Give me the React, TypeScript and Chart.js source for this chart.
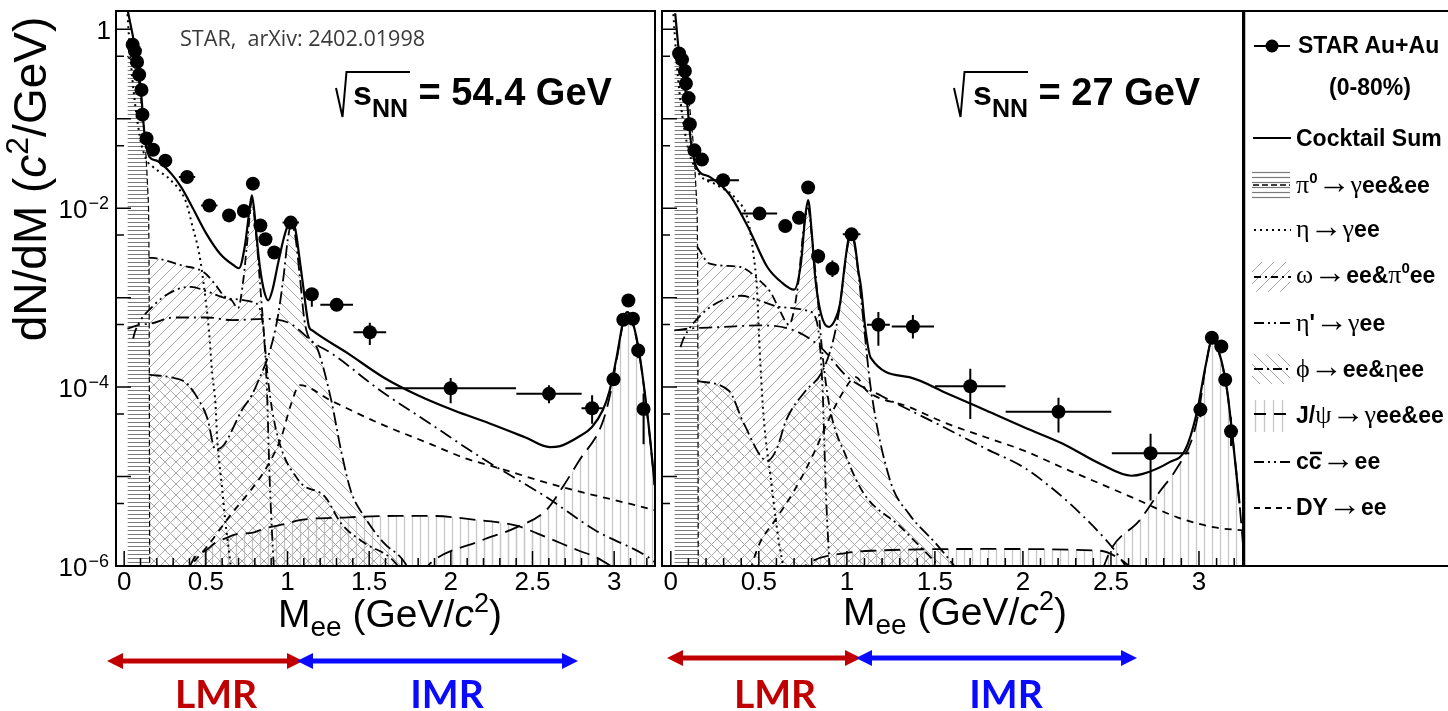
import React, { useEffect, useRef } from "react";
import { Chart, registerables } from "chart.js";

Chart.register(...registerables);

// ---------- axes ----------
const X_MIN = -0.05;
const X_MAX = 3.25;
const Y_MIN = 1e-6;
const Y_MAX = 1.6;
const X_TICK_VALUES = [0, 0.5, 1, 1.5, 2, 2.5, 3];
const X_TICK_LABELS = ["0", "0.5", "1", "1.5", "2", "2.5", "3"];
const Y_LABEL_EXPONENTS = [0, -2, -4, -6];

// ---------- STAR Au+Au 54.4 GeV (0-80%) ----------
const PTS54_M = [0.052, 0.066, 0.079, 0.092, 0.106, 0.112, 0.137, 0.177, 0.252, 0.385, 0.521, 0.642, 0.733, 0.788, 0.834, 0.865, 0.919, 1.02, 1.149, 1.301, 1.504, 1.999, 2.601, 2.865, 2.996, 3.056, 3.087, 3.115, 3.147, 3.18];
const PTS54_Y = [0.67, 0.57, 0.43, 0.31, 0.21, 0.111, 0.06, 0.045, 0.034, 0.0223, 0.0107, 0.0083, 0.0093, 0.0188, 0.0064, 0.0045, 0.0032, 0.0069, 1.09e-3, 8.3e-4, 4.1e-4, 9.7e-5, 8.4e-5, 5.8e-5, 1.22e-4, 5.66e-4, 9.3e-4, 5.8e-4, 2.57e-4, 5.7e-5];
const PTS54_DM = [0.004, 0.004, 0.004, 0.004, 0.004, 0.004, 0.01, 0.02, 0.03, 0.05, 0.05, 0.02, 0.02, 0.01, 0.015, 0.015, 0.02, 0.05, 0.03, 0.1, 0.1, 0.4, 0.2, 0.065, 0.02, 0.01, 0.01, 0.01, 0.01, 0.01];
const PTS54_LO = [0.67, 0.57, 0.43, 0.31, 0.21, 0.111, 0.06, 0.045, 0.034, 0.0223, 0.0107, 0.0083, 0.0093, 0.0188, 0.0064, 0.0045, 0.0028, 0.0069, 7.9e-4, 7.2e-4, 2.95e-4, 6.6e-5, 6.6e-5, 3.9e-5, 1.22e-4, 5.66e-4, 9.3e-4, 5.8e-4, 2.1e-4, 2.3e-5];
const PTS54_HI = [0.67, 0.57, 0.43, 0.31, 0.21, 0.111, 0.06, 0.045, 0.034, 0.0223, 0.0107, 0.0083, 0.0093, 0.0188, 0.0064, 0.0045, 0.0036, 0.0069, 1.26e-3, 9.6e-4, 5.25e-4, 1.26e-4, 1.05e-4, 8.1e-5, 1.22e-4, 5.66e-4, 9.3e-4, 5.8e-4, 3.1e-4, 8.5e-5];

// cocktail components, 54.4 GeV
const SUM54_M = [0.023, 0.069, 0.102, 0.124, 0.157, 0.199, 0.287, 0.35, 0.418, 0.503, 0.587, 0.67, 0.703, 0.739, 0.768, 0.782, 0.796, 0.811, 0.831, 0.856, 0.882, 0.907, 0.942, 0.977, 1.002, 1.023, 1.048, 1.073, 1.097, 1.118, 1.132, 1.152, 1.37, 1.586, 1.801, 2.02, 2.238, 2.454, 2.606, 2.669, 2.778, 2.863, 2.93, 2.972, 3.015, 3.061, 3.081, 3.103, 3.148, 3.191, 3.223, 3.248];
const SUM54_Y = [1.58, 0.58, 0.21, 0.069, 0.037, 0.034, 0.0245, 0.0171, 0.0102, 0.0052, 0.0031, 0.0023, 0.00213, 0.0038, 0.0098, 0.0139, 0.0095, 0.0048, 0.0022, 0.0012, 0.00093, 0.0012, 0.0024, 0.0046, 0.0064, 0.007, 0.0058, 0.0028, 0.0013, 6.6e-4, 4.7e-4, 4.3e-4, 2.38e-4, 1.29e-4, 8.05e-5, 5.47e-5, 3.92e-5, 2.75e-5, 2.13e-5, 2.19e-5, 2.75e-5, 3.56e-5, 5.5e-5, 9.1e-5, 2.16e-4, 6.05e-4, 6.9e-4, 6.05e-4, 2.8e-4, 7.7e-5, 2.35e-5, 8e-6];
const PI0_M = [0.02, 0.06, 0.09, 0.11, 0.13, 0.145, 0.152, 0.157];
const PI0_54_Y = [0.5, 0.4, 0.25, 0.12, 0.05, 0.015, 0.003, 1e-7];
const ETA54_M = [0.015, 0.045, 0.096, 0.136, 0.176, 0.287, 0.378, 0.418, 0.458, 0.478, 0.519, 0.539, 0.559, 0.569, 0.599, 0.619, 0.65, 0.67];
const ETA54_Y = [2.0, 0.35, 0.063, 0.035, 0.029, 0.0204, 0.0118, 0.0063, 0.0032, 0.00186, 4.3e-4, 1.41e-4, 6.5e-5, 2.75e-5, 7.6e-6, 3.2e-6, 1.1e-6, 5e-7];
const OMEGA54_M = [0.15, 0.212, 0.354, 0.486, 0.557, 0.609, 0.659, 0.697, 0.73, 0.755, 0.782, 0.806, 0.831, 0.856, 0.881, 0.932, 1.067, 1.231, 1.328, 1.474, 1.631, 1.72];
const OMEGA54_Y = [2.8e-3, 2.72e-3, 2.29e-3, 1.93e-3, 1.41e-3, 1.05e-3, 9.3e-4, 7.6e-4, 1.6e-3, 4.5e-3, 1.2e-2, 5.5e-3, 1.5e-3, 4.0e-4, 1.2e-4, 3.2e-5, 9.1e-6, 5.9e-6, 3.0e-6, 1.8e-6, 1.23e-6, 8e-7];
const ETAP54_M = [0.055, 0.069, 0.178, 0.307, 0.408, 0.509, 0.609, 0.71, 0.79, 0.839, 0.872, 0.891, 0.916, 0.93];
const ETAP54_Y = [3.5e-4, 4.3e-4, 8.1e-4, 1.2e-3, 1.32e-3, 1.17e-3, 1.0e-3, 9.5e-4, 8.9e-4, 6.6e-4, 1.17e-4, 9.1e-6, 1e-6, 4e-7];
const PHI54_M = [0.15, 0.307, 0.378, 0.458, 0.509, 0.559, 0.609, 0.72, 0.781, 0.821, 0.891, 0.942, 0.977, 1.002, 1.023, 1.048, 1.073, 1.107, 1.187, 1.268, 1.328, 1.388, 1.473, 1.594, 1.691, 1.77];
const PHI54_Y = [1.38e-4, 1.26e-4, 1.12e-4, 7.1e-5, 4.5e-5, 2.0e-5, 2.24e-5, 5.5e-5, 8.1e-5, 1.17e-4, 2.5e-4, 6.3e-4, 1.8e-3, 4.5e-3, 6.6e-3, 4.8e-3, 1.9e-3, 5.1e-4, 2.57e-4, 7.1e-5, 1.95e-5, 6.9e-6, 3.5e-6, 1.78e-6, 1.26e-6, 8e-7];
const JPSITAIL54_M = [0.39, 0.437, 0.498, 0.559, 0.62, 0.7, 0.781, 0.861, 1.002, 1.067, 1.37, 1.674, 1.874, 2.178, 2.402, 2.584, 2.785, 2.886, 3.02];
const JPSITAIL54_Y = [9e-7, 1.29e-6, 1.48e-6, 1.82e-6, 2.04e-6, 2.29e-6, 2.34e-6, 2.63e-6, 3.0e-6, 3.24e-6, 3.5e-6, 3.63e-6, 3.63e-6, 3.24e-6, 2.82e-6, 2.1e-6, 1.48e-6, 1.26e-6, 9e-7];
const JPSI54_M = [1.82, 1.874, 2.178, 2.402, 2.584, 2.684, 2.785, 2.926, 2.977, 3.017, 3.061, 3.081, 3.103, 3.148, 3.191, 3.223, 3.248];
const JPSI54_Y = [8e-7, 1.07e-6, 1.9e-6, 2.7e-6, 4.2e-6, 7.6e-6, 1.5e-5, 3.9e-5, 8.5e-5, 2.1e-4, 5.9e-4, 6.8e-4, 5.9e-4, 2.7e-4, 7.5e-5, 2.3e-5, 8e-6];
const CC54_M = [0.02, 0.1, 0.156, 0.307, 0.509, 0.66, 0.86, 1.012, 1.061, 1.163, 1.267, 1.57, 1.874, 2.178, 2.584, 2.886, 3.208, 3.25];
const CC54_Y = [4.5e-4, 5.0e-4, 5.1e-4, 6.0e-4, 6.0e-4, 5.6e-4, 5.8e-4, 5.2e-4, 4.5e-4, 3.1e-4, 2.4e-4, 9.1e-5, 3.9e-5, 1.66e-5, 5.9e-6, 2.5e-6, 1.26e-6, 1.1e-6];
const DY54_M = [0.428, 0.509, 0.66, 0.76, 0.861, 0.962, 1.02, 1.075, 1.264, 1.566, 1.868, 2.08, 2.281, 2.684, 3.087, 3.25];
const DY54_Y = [1.12e-6, 1.66e-6, 3.9e-6, 6.5e-6, 1.17e-5, 2.75e-5, 6.3e-5, 1.05e-4, 7.1e-5, 3.9e-5, 2.34e-5, 1.62e-5, 1.26e-5, 7.6e-6, 5.0e-6, 4.2e-6];

// ---------- STAR Au+Au 27 GeV (0-80%) ----------
const PTS27_M = [0.047, 0.064, 0.08, 0.086, 0.101, 0.108, 0.134, 0.177, 0.297, 0.504, 0.65, 0.728, 0.78, 0.837, 0.918, 1.027, 1.179, 1.375, 1.701, 2.202, 2.725, 3.008, 3.073, 3.127, 3.149, 3.182];
const PTS27_Y = [0.535, 0.458, 0.342, 0.247, 0.17, 0.0866, 0.0443, 0.0349, 0.0205, 0.0087, 0.0063, 0.0078, 0.017, 0.0029, 0.0021, 0.0051, 4.98e-4, 4.76e-4, 1.02e-4, 5.3e-5, 1.82e-5, 5.6e-5, 3.56e-4, 2.85e-4, 1.21e-4, 3.2e-5];
const PTS27_DM = [0.004, 0.004, 0.004, 0.004, 0.004, 0.004, 0.01, 0.02, 0.09, 0.1, 0.02, 0.02, 0.01, 0.02, 0.02, 0.05, 0.065, 0.12, 0.2, 0.3, 0.22, 0.01, 0.01, 0.01, 0.01, 0.01];
const PTS27_LO = [0.535, 0.458, 0.342, 0.247, 0.17, 0.0866, 0.0443, 0.0349, 0.0205, 0.0087, 0.0063, 0.0078, 0.017, 0.0024, 0.0017, 0.0051, 2.9e-4, 3.5e-4, 4.4e-5, 3.1e-5, 5.4e-6, 4.6e-5, 3.56e-4, 2.85e-4, 1.21e-4, 2.2e-5];
const PTS27_HI = [0.535, 0.458, 0.342, 0.247, 0.17, 0.0866, 0.0443, 0.0349, 0.0205, 0.0087, 0.0063, 0.0078, 0.017, 0.0035, 0.0026, 0.0051, 6.9e-4, 6.4e-4, 1.6e-4, 7.6e-5, 3.0e-5, 6.8e-5, 3.56e-4, 2.85e-4, 1.21e-4, 4.6e-5];

// cocktail components, 27 GeV
const SUM27_M = [0.025, 0.047, 0.091, 0.113, 0.145, 0.221, 0.33, 0.438, 0.548, 0.635, 0.7, 0.74, 0.762, 0.78, 0.8, 0.82, 0.853, 0.896, 0.93, 0.961, 0.99, 1.01, 1.027, 1.045, 1.065, 1.08, 1.105, 1.135, 1.354, 1.57, 1.788, 2.006, 2.224, 2.441, 2.616, 2.681, 2.833, 2.92, 2.986, 3.04, 3.073, 3.117, 3.16, 3.193, 3.23];
const SUM27_Y = [1.51, 0.537, 0.162, 0.0575, 0.0288, 0.0224, 0.0145, 0.0062, 0.0022, 0.00145, 0.00123, 0.0025, 0.0075, 0.0123, 0.0055, 0.0017, 6.6e-4, 4.7e-4, 5.5e-4, 8.5e-4, 2.5e-3, 4.6e-3, 5.2e-3, 4.0e-3, 2.0e-3, 1.32e-3, 4.5e-4, 2.14e-4, 1.29e-4, 8.5e-5, 5.5e-5, 3.55e-5, 2.34e-5, 1.38e-5, 1.02e-5, 1.07e-5, 1.45e-5, 1.95e-5, 5.0e-5, 1.82e-4, 3.3e-4, 2.34e-4, 9.1e-5, 2.5e-5, 5e-6];
const PI0_27_Y = [0.6, 0.45, 0.28, 0.12, 0.045, 0.014, 0.003, 1e-7];
const ETA27_M = [0.01, 0.04, 0.09, 0.156, 0.265, 0.374, 0.439, 0.47, 0.49, 0.504, 0.526, 0.569, 0.613, 0.635, 0.66];
const ETA27_Y = [2.0, 0.3, 0.055, 0.025, 0.018, 0.0125, 0.0072, 0.003, 0.0012, 2.8e-4, 5e-5, 9.1e-6, 1.9e-6, 1.07e-6, 5e-7];
const OMEGA27_M = [0.15, 0.221, 0.395, 0.5, 0.57, 0.62, 0.67, 0.72, 0.755, 0.78, 0.8, 0.83, 0.86, 0.9, 1.0, 1.1, 1.3, 1.45, 1.55];
const OMEGA27_Y = [3.7e-3, 2.4e-3, 2.2e-3, 1.58e-3, 1.12e-3, 7.1e-4, 5.0e-4, 1.26e-3, 6.0e-3, 1.0e-2, 5.0e-3, 1.26e-3, 2.5e-4, 6.3e-5, 1.6e-5, 6.3e-6, 2.8e-6, 1.41e-6, 8.9e-7];
const ETAP27_M = [0.055, 0.07, 0.175, 0.3, 0.4, 0.5, 0.6, 0.7, 0.78, 0.83, 0.862, 0.88, 0.904];
const ETAP27_Y = [2.8e-4, 3.4e-4, 6.5e-4, 9.5e-4, 1.05e-3, 9.3e-4, 8.0e-4, 7.6e-4, 7.1e-4, 5.3e-4, 9.5e-5, 7.4e-6, 8e-7];
const PHI27_M = [0.15, 0.33, 0.415, 0.548, 0.6, 0.656, 0.766, 0.853, 0.92, 0.96, 0.99, 1.01, 1.027, 1.045, 1.065, 1.09, 1.135, 1.245, 1.354, 1.506, 1.57, 1.65];
const PHI27_Y = [1.17e-4, 9.1e-5, 3.9e-5, 1.5e-5, 2.0e-5, 4.3e-5, 9.1e-5, 1.41e-4, 3.2e-4, 8.0e-4, 2.4e-3, 4.3e-3, 5.0e-3, 3.8e-3, 1.9e-3, 6.5e-4, 1.0e-4, 9.1e-6, 3.8e-6, 1.78e-6, 1.26e-6, 8e-7];
const JPSITAIL27_M = [0.7, 0.81, 1.0, 1.14, 1.8, 2.44, 2.55, 2.63];
const JPSITAIL27_Y = [8e-7, 1.15e-6, 1.4e-6, 1.48e-6, 1.55e-6, 1.48e-6, 1.2e-6, 9e-7];
const JPSI27_M = [2.45, 2.507, 2.66, 2.77, 2.877, 2.964, 3.0, 3.04, 3.073, 3.117, 3.16, 3.193, 3.23, 3.26];
const JPSI27_Y = [9e-7, 1.62e-6, 3.2e-6, 6.5e-6, 1.26e-5, 2.75e-5, 5.5e-5, 1.8e-4, 3.3e-4, 2.3e-4, 9.0e-5, 2.5e-5, 5e-6, 1e-6];
const CC27_M = [0.02, 0.1, 0.3, 0.5, 0.7, 0.85, 1.005, 1.2, 1.5, 1.8, 2.006, 2.2, 2.33, 2.507, 2.6];
const CC27_Y = [4.3e-4, 4.5e-4, 4.7e-4, 4.9e-4, 4.3e-4, 2.8e-4, 1.29e-4, 7.9e-5, 4.0e-5, 2.0e-5, 1.26e-5, 6.5e-6, 3.8e-6, 1.62e-6, 9e-7];
const DY27_M = [0.45, 0.504, 0.59, 0.7, 0.81, 0.896, 0.983, 1.05, 1.114, 1.353, 1.57, 1.788, 2.006, 2.224, 2.44, 2.66, 2.877, 3.09, 3.25];
const DY27_Y = [9e-7, 1.78e-6, 3.2e-6, 6.9e-6, 1.78e-5, 4.3e-5, 9.1e-5, 1.29e-4, 9.1e-5, 6.0e-5, 3.9e-5, 2.75e-5, 1.95e-5, 1.26e-5, 8.3e-6, 5.4e-6, 3.5e-6, 2.7e-6, 2.5e-6];

// ---------- rendering ----------
const FONT = '"Liberation Sans", Arial, Helvetica, sans-serif';
const SERIF = '"Liberation Serif", "DejaVu Serif", serif';
const CANVAS_H = 600;
const PAD_TOP = 11;
const PAD_BOTTOM = 34;

type Curve = { m: number[]; y: number[] };
type PanelSpec = {
  left: number;
  width: number;
  padLeft: number;
  padRight: number;
  yLabels: boolean;
  pts: { m: number[]; y: number[]; dm: number[]; lo: number[]; hi: number[] };
  sum: Curve; pi0: Curve; eta: Curve; omega: Curve; etap: Curve; phi: Curve;
  jpsiTail: Curve; jpsi: Curve; cc: Curve; dy: Curve;
};

const PANEL54: PanelSpec = {
  left: 0, width: 662, padLeft: 116, padRight: 2, yLabels: true,
  pts: { m: PTS54_M, y: PTS54_Y, dm: PTS54_DM, lo: PTS54_LO, hi: PTS54_HI },
  sum: { m: SUM54_M, y: SUM54_Y }, pi0: { m: PI0_M, y: PI0_54_Y }, eta: { m: ETA54_M, y: ETA54_Y },
  omega: { m: OMEGA54_M, y: OMEGA54_Y }, etap: { m: ETAP54_M, y: ETAP54_Y }, phi: { m: PHI54_M, y: PHI54_Y },
  jpsiTail: { m: JPSITAIL54_M, y: JPSITAIL54_Y }, jpsi: { m: JPSI54_M, y: JPSI54_Y },
  cc: { m: CC54_M, y: CC54_Y }, dy: { m: DY54_M, y: DY54_Y },
};

const PANEL27: PanelSpec = {
  left: 640, width: 610, padLeft: 22, padRight: 7, yLabels: false,
  pts: { m: PTS27_M, y: PTS27_Y, dm: PTS27_DM, lo: PTS27_LO, hi: PTS27_HI },
  sum: { m: SUM27_M, y: SUM27_Y }, pi0: { m: PI0_M, y: PI0_27_Y }, eta: { m: ETA27_M, y: ETA27_Y },
  omega: { m: OMEGA27_M, y: OMEGA27_Y }, etap: { m: ETAP27_M, y: ETAP27_Y }, phi: { m: PHI27_M, y: PHI27_Y },
  jpsiTail: { m: JPSITAIL27_M, y: JPSITAIL27_Y }, jpsi: { m: JPSI27_M, y: JPSI27_Y },
  cc: { m: CC27_M, y: CC27_Y }, dy: { m: DY27_M, y: DY27_Y },
};

function zip(m: number[], y: number[]) {
  return m.map((x, i) => ({ x, y: y[i] }));
}

// small tiles used as hatch fills
function hatchTile(kind: string): HTMLCanvasElement {
  const c = document.createElement("canvas");
  const g = c.getContext("2d") as CanvasRenderingContext2D;
  if (kind === "fwd" || kind === "back") {
    const s = 11;
    c.width = s; c.height = s;
    g.strokeStyle = "#a9a9a9"; g.lineWidth = 1;
    g.beginPath();
    if (kind === "fwd") {
      g.moveTo(-1, s + 1); g.lineTo(s + 1, -1);
      g.moveTo(-2, 2); g.lineTo(2, -2);
      g.moveTo(s - 2, s + 2); g.lineTo(s + 2, s - 2);
    } else {
      g.moveTo(-1, -1); g.lineTo(s + 1, s + 1);
      g.moveTo(-2, s - 2); g.lineTo(2, s + 2);
      g.moveTo(s - 2, -2); g.lineTo(s + 2, 2);
    }
    g.stroke();
  } else if (kind === "vert") {
    c.width = 8; c.height = 8;
    g.strokeStyle = "#c6c6c6"; g.lineWidth = 1.3;
    g.beginPath(); g.moveTo(4.5, 0); g.lineTo(4.5, 8); g.stroke();
  } else {
    c.width = 8; c.height = 4;
    g.strokeStyle = "#7a7a7a"; g.lineWidth = 1;
    g.beginPath(); g.moveTo(0, 2.5); g.lineTo(8, 2.5); g.stroke();
  }
  return c;
}

function Panel({ spec }: { spec: PanelSpec }) {
  const ref = useRef<HTMLCanvasElement | null>(null);

  useEffect(() => {
    const canvas = ref.current;
    if (!canvas) return;
    const g = canvas.getContext("2d") as CanvasRenderingContext2D;
    const pattern = (k: string) => g.createPattern(hatchTile(k), "repeat") as CanvasPattern;

    const curve = (c: Curve, dash: number[], width: number, fill: CanvasPattern | null) => ({
      type: "line",
      data: zip(c.m, c.y),
      borderColor: "#000",
      borderWidth: width,
      borderDash: dash,
      pointRadius: 0,
      cubicInterpolationMode: "monotone",
      fill: fill ? "start" : false,
      backgroundColor: fill || "rgba(0,0,0,0)",
    });

    const pts = spec.pts;
    const datasets = [
      {
        type: "line",
        data: zip(pts.m, pts.y),
        showLine: false,
        pointRadius: 7,
        pointBackgroundColor: "#000",
        pointBorderColor: "#000",
        pointBorderWidth: 0,
        fill: false,
      },
      curve(spec.sum, [], 2.2, null),
      curve(spec.eta, [2, 4], 2, null),
      curve(spec.etap, [11, 4, 2, 4, 2, 4], 1.8, null),
      curve(spec.cc, [13, 5, 2, 5], 1.8, null),
      curve(spec.dy, [7, 6], 1.8, null),
      curve(spec.omega, [9, 4, 2, 4], 1.8, pattern("fwd")),
      curve(spec.phi, [13, 4, 2, 4], 1.8, pattern("back")),
      curve(spec.jpsiTail, [16, 8], 1.8, pattern("vert")),
      curve(spec.jpsi, [16, 8], 1.8, pattern("vert")),
      curve(spec.pi0, [6, 3], 1.2, pattern("horiz")),
    ];

    const decor = {
      id: "decor",
      afterDatasetsDraw(chart: any) {
        const { ctx, scales } = chart;
        const xs = scales.x;
        const ys = scales.y;
        ctx.save();
        ctx.strokeStyle = "#000";
        ctx.lineWidth = 2;
        ctx.beginPath();
        pts.m.forEach((m, i) => {
          const py = ys.getPixelForValue(pts.y[i]);
          const px = xs.getPixelForValue(m);
          ctx.moveTo(xs.getPixelForValue(m - pts.dm[i]), py);
          ctx.lineTo(xs.getPixelForValue(m + pts.dm[i]), py);
          if (pts.hi[i] !== pts.lo[i]) {
            ctx.moveTo(px, ys.getPixelForValue(pts.hi[i]));
            ctx.lineTo(px, ys.getPixelForValue(pts.lo[i]));
          }
        });
        ctx.stroke();
        ctx.restore();
      },
      afterDraw(chart: any) {
        const { ctx, chartArea: a, scales } = chart;
        const xs = scales.x;
        const ys = scales.y;
        ctx.save();
        ctx.strokeStyle = "#000";
        ctx.lineWidth = 1.5;
        ctx.beginPath();
        for (let i = 0; i <= 32; i++) {
          const px = xs.getPixelForValue(i / 10);
          const len = i % 5 === 0 ? 15 : 8;
          ctx.moveTo(px, a.bottom);
          ctx.lineTo(px, a.bottom - len);
        }
        for (let e = -6; e <= 0; e++) {
          const py = ys.getPixelForValue(Math.pow(10, e));
          ctx.moveTo(a.left, py);
          ctx.lineTo(a.left + 15, py);
          const ph = ys.getPixelForValue(5 * Math.pow(10, e - 1));
          if (ph < a.bottom - 1) {
            ctx.moveTo(a.left, ph);
            ctx.lineTo(a.left + 8, ph);
          }
        }
        ctx.stroke();
        ctx.lineWidth = 2;
        ctx.strokeRect(a.left, a.top, a.right - a.left, a.bottom - a.top);

        ctx.fillStyle = "#000";
        ctx.font = "26px " + FONT;
        ctx.textAlign = "center";
        ctx.textBaseline = "alphabetic";
        X_TICK_VALUES.forEach((v, i) => {
          ctx.fillText(X_TICK_LABELS[i], xs.getPixelForValue(v), a.bottom + 24);
        });

        if (spec.yLabels) {
          ctx.textAlign = "right";
          Y_LABEL_EXPONENTS.forEach((e) => {
            const py = ys.getPixelForValue(Math.pow(10, e));
            if (e === 0) {
              ctx.font = "26px " + FONT;
              ctx.fillText("1", a.left - 5, py + 10);
            } else {
              ctx.font = "18px " + FONT;
              const sup = "\u2212" + String(-e);
              const sw = ctx.measureText(sup).width;
              ctx.fillText(sup, a.left - 7, py + 1);
              ctx.font = "26px " + FONT;
              ctx.fillText("10", a.left - 8 - sw, py + 10);
            }
          });
        }
        ctx.restore();
      },
    };

    const chart = new Chart(canvas, {
      type: "line",
      data: { datasets },
      options: {
        responsive: false,
        animation: false,
        events: [],
        layout: { padding: { left: spec.padLeft, right: spec.padRight, top: PAD_TOP, bottom: PAD_BOTTOM } },
        scales: {
          x: { type: "linear", min: X_MIN, max: X_MAX, display: false },
          y: { type: "logarithmic", min: Y_MIN, max: Y_MAX, display: false },
        },
        plugins: {
          legend: { display: false },
          tooltip: { enabled: false },
          filler: { drawTime: "beforeDatasetsDraw", propagate: false },
        },
      },
      plugins: [decor],
    } as any);

    return () => chart.destroy();
  }, [spec]);

  return (
    <canvas
      ref={ref}
      width={spec.width}
      height={CANVAS_H}
      style={{ position: "absolute", left: spec.left, top: 0, width: spec.width, height: CANVAS_H }}
    />
  );
}

// greek / symbol run inside bold legend text
function G({ t, dy, size }: { t: string; dy?: number; size?: number }) {
  return (
    <tspan fontFamily={SERIF} fontWeight="normal" fontSize={size || 26} dy={dy}>
      {t}
    </tspan>
  );
}

// long arrow used in the decay labels
function Arr({ dy }: { dy?: number }) {
  return <G t={"\u2192"} size={33} dy={dy} />;
}

function Arrow({ x1, x2, y, color }: { x1: number; x2: number; y: number; color: string }) {
  return (
    <g fill={color}>
      <rect x={x1 + 12} y={y - 2.5} width={x2 - x1 - 24} height={5} />
      <polygon points={`${x1},${y} ${x1 + 16},${y - 8} ${x1 + 16},${y + 8}`} />
      <polygon points={`${x2},${y} ${x2 - 16},${y - 8} ${x2 - 16},${y + 8}`} />
    </g>
  );
}

function Overlay() {
  const legendText = { fontFamily: FONT, fontWeight: "bold", fontSize: 23, fill: "#000" } as any;
  return (
    <svg
      width={1448}
      height={711}
      style={{ position: "absolute", left: 0, top: 0, pointerEvents: "none" }}
      fontFamily={FONT}
    >
      <defs>
        <pattern id="lgFwd" width="12" height="12" patternUnits="userSpaceOnUse">
          <path d="M-1,13 L13,-1" stroke="#a9a9a9" strokeWidth="1" />
        </pattern>
        <pattern id="lgBack" width="12" height="12" patternUnits="userSpaceOnUse">
          <path d="M-1,-1 L13,13" stroke="#a9a9a9" strokeWidth="1" />
        </pattern>
        <pattern id="lgVert" width="9" height="9" patternUnits="userSpaceOnUse">
          <path d="M4.5,0 L4.5,9" stroke="#c6c6c6" strokeWidth="1.3" />
        </pattern>
        <pattern id="lgHoriz" width="8" height="5" patternUnits="userSpaceOnUse">
          <path d="M0,2.5 L8,2.5" stroke="#7a7a7a" strokeWidth="1.2" />
        </pattern>
      </defs>

      {/* axis titles */}
      <text transform="translate(46,179) rotate(-90)" textAnchor="middle" fontSize={46}>
        dN/dM (<tspan fontStyle="italic">c</tspan>
        <tspan dy={-18} fontSize={32}>2</tspan>
        <tspan dy={18}>/GeV)</tspan>
      </text>
      <text x={390} y={627} textAnchor="middle" fontSize={39}>
        M<tspan dy={9} fontSize={28}>ee</tspan>
        <tspan dy={-9}> (GeV/</tspan>
        <tspan fontStyle="italic">c</tspan>
        <tspan dy={-15} fontSize={27}>2</tspan>
        <tspan dy={15}>)</tspan>
      </text>
      <text x={955} y={625} textAnchor="middle" fontSize={39}>
        M<tspan dy={9} fontSize={28}>ee</tspan>
        <tspan dy={-9}> (GeV/</tspan>
        <tspan fontStyle="italic">c</tspan>
        <tspan dy={-15} fontSize={27}>2</tspan>
        <tspan dy={15}>)</tspan>
      </text>

      {/* reference note */}
      <text x={180} y={46} fontFamily='"Open Sans", sans-serif' fontSize={21.6} fill="#3a3a3a" style={{ whiteSpace: "pre" }}>
        {"STAR,  arXiv: 2402.01998"}
      </text>

      {/* collision energies */}
      <polyline points="336,88 342.5,117 346.5,72 410,72" fill="none" stroke="#000" strokeWidth={2} />
      <text x={353} y={105} fontWeight="bold" fontSize={34}>
        s<tspan dy={12} fontSize={25}>NN</tspan>
        <tspan dy={-12} fontSize={38}>{" = 54.4 GeV"}</tspan>
      </text>
      <polyline points="954,88 960.5,117 964.5,72 1028,72" fill="none" stroke="#000" strokeWidth={2} />
      <text x={973} y={105} fontWeight="bold" fontSize={34}>
        s<tspan dy={12} fontSize={25}>NN</tspan>
        <tspan dy={-12} fontSize={38}>{" = 27 GeV"}</tspan>
      </text>

      {/* legend box */}
      <line x1={1244} y1={10} x2={1244} y2={567} stroke="#000" strokeWidth={2.5} />
      <line x1={1243} y1={11} x2={1448} y2={11} stroke="#000" strokeWidth={2} />
      <line x1={1243} y1={566} x2={1448} y2={566} stroke="#000" strokeWidth={2} />

      <line x1={1254} y1={46} x2={1290} y2={46} stroke="#000" strokeWidth={2} />
      <circle cx={1272} cy={46} r={6.5} fill="#000" />
      <text x={1298} y={53} {...legendText}>STAR Au+Au</text>
      <text x={1370} y={95} textAnchor="middle" {...legendText}>(0-80%)</text>

      <line x1={1253} y1={138} x2={1291} y2={138} stroke="#000" strokeWidth={2} />
      <text x={1296} y={146} {...legendText}>Cocktail Sum</text>

      <rect x={1252} y={171} width={38} height={28} fill="url(#lgHoriz)" />
      <line x1={1253} y1={185} x2={1290} y2={185} stroke="#000" strokeWidth={1.5} strokeDasharray="6 3" />
      <text x={1296} y={193} {...legendText}>
        <G t={"\u03c0"} />
        <tspan dy={-10} fontSize={15}>0</tspan>
        <Arr dy={10} />
        <G t={"\u03b3"} />
        <tspan>{"ee&ee"}</tspan>
      </text>

      <line x1={1254} y1={230} x2={1291} y2={230} stroke="#000" strokeWidth={2} strokeDasharray="2 4" />
      <text x={1296} y={237} {...legendText}>
        <G t={"\u03b7"} />
        <Arr />
        <G t={"\u03b3"} />
        <tspan>ee</tspan>
      </text>

      <rect x={1252} y={262} width={38} height={30} fill="url(#lgFwd)" />
      <line x1={1254} y1={277} x2={1291} y2={277} stroke="#000" strokeWidth={1.8} strokeDasharray="7 4 2 4" />
      <text x={1296} y={283} {...legendText}>
        <G t={"\u03c9"} />
        <Arr />
        <tspan>{"ee&"}</tspan>
        <G t={"\u03c0"} />
        <tspan dy={-10} fontSize={15}>0</tspan>
        <tspan dy={10}>ee</tspan>
      </text>

      <line x1={1254} y1={323} x2={1291} y2={323} stroke="#000" strokeWidth={1.8} strokeDasharray="10 4 2 4 2 4" />
      <text x={1296} y={331} {...legendText}>
        <G t={"\u03b7"} />
        <tspan>'</tspan>
        <Arr />
        <G t={"\u03b3"} />
        <tspan>ee</tspan>
      </text>

      <rect x={1252} y={354} width={38} height={30} fill="url(#lgBack)" />
      <line x1={1254} y1={369} x2={1291} y2={369} stroke="#000" strokeWidth={1.8} strokeDasharray="9 4 2 4" />
      <text x={1296} y={377} {...legendText}>
        <G t={"\u03d5"} />
        <Arr />
        <tspan>{"ee&"}</tspan>
        <G t={"\u03b7"} />
        <tspan>ee</tspan>
      </text>

      <rect x={1252} y={400} width={38} height={32} fill="url(#lgVert)" />
      <line x1={1254} y1={414} x2={1291} y2={414} stroke="#000" strokeWidth={1.8} strokeDasharray="12 8" />
      <text x={1296} y={423} {...legendText}>
        <tspan>J/</tspan>
        <G t={"\u03c8"} />
        <Arr />
        <G t={"\u03b3"} />
        <tspan>{"ee&ee"}</tspan>
      </text>

      <line x1={1254} y1={462} x2={1291} y2={462} stroke="#000" strokeWidth={1.8} strokeDasharray="10 4 2 4 2 4" />
      <text x={1296} y={469} {...legendText}>
        <tspan>cc</tspan>
        <Arr />
        <tspan>ee</tspan>
      </text>
      <line x1={1310} y1={453} x2={1322} y2={453} stroke="#000" strokeWidth={2.5} />

      <line x1={1254} y1={508} x2={1291} y2={508} stroke="#000" strokeWidth={1.8} strokeDasharray="6 5" />
      <text x={1296} y={515} {...legendText}>
        <tspan>DY</tspan>
        <Arr />
        <tspan>ee</tspan>
      </text>

      {/* mass regions */}
      <Arrow x1={107} x2={303} y={661} color="#c00000" />
      <Arrow x1={297} x2={578} y={661} color="#0a0aff" />
      <Arrow x1={667} x2={861} y={658} color="#c00000" />
      <Arrow x1={856} x2={1137} y={658} color="#0a0aff" />
      <text x={216} y={708} textAnchor="middle" fontFamily='Lato, "Open Sans", sans-serif' fontWeight="bold" fontSize={39} fill="#c00000">LMR</text>
      <text x={447} y={708} textAnchor="middle" fontFamily='Lato, "Open Sans", sans-serif' fontWeight="bold" fontSize={39} fill="#0a0aff">IMR</text>
      <text x={775} y={708} textAnchor="middle" fontFamily='Lato, "Open Sans", sans-serif' fontWeight="bold" fontSize={39} fill="#c00000">LMR</text>
      <text x={1006} y={708} textAnchor="middle" fontFamily='Lato, "Open Sans", sans-serif' fontWeight="bold" fontSize={39} fill="#0a0aff">IMR</text>
    </svg>
  );
}

export default function App() {
  useEffect(() => {
    document.body.style.margin = "0";
  }, []);
  return (
    <div
      style={{
        position: "absolute",
        left: 0,
        top: 0,
        width: 1448,
        height: 711,
        background: "#fff",
        overflow: "hidden",
      }}
    >
      <Panel spec={PANEL54} />
      <Panel spec={PANEL27} />
      <Overlay />
    </div>
  );
}
